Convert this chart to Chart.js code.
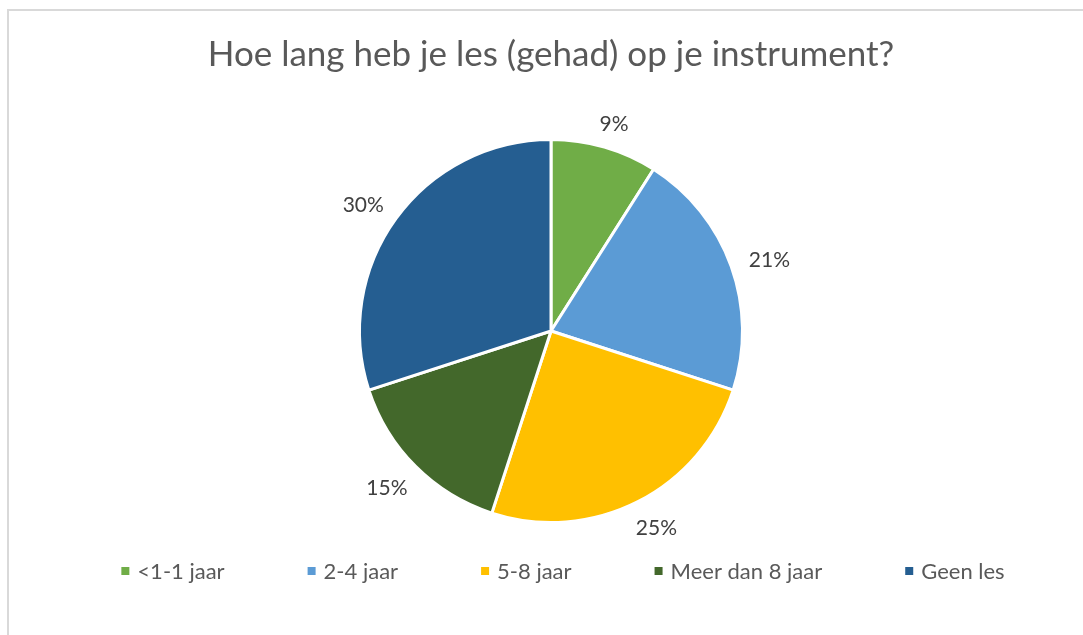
<!DOCTYPE html>
<html>
<head>
<meta charset="utf-8">
<script src="https://cdn.jsdelivr.net/npm/chart.js@4"></script>
<style>
  html, body { margin: 0; padding: 0; background: #fff; overflow: hidden; }
  #frame { position: absolute; left: 7px; top: 9px; width: 1100px; height: 700px; border: 2px solid #d9d9d9; }
  #wrap { position: absolute; left: 0; top: 0; width: 1083px; height: 635px; }
</style>
</head>
<body>
<div id="frame"></div>
<div id="wrap"><canvas id="pie" width="1083" height="635"></canvas></div>
<script>
const categories = ['<1-1 jaar', '2-4 jaar', '5-8 jaar', 'Meer dan 8 jaar', 'Geen les'];
const shares = [9, 21, 25, 15, 30];
const sliceColors = ['#70ad47', '#5b9bd5', '#ffc000', '#43682b', '#255e91'];
const chartTitle = 'Hoe lang heb je les (gehad) op je instrument?';

const FONT = 'Lato, "Open Sans", sans-serif';

// percent labels just outside each slice
const outsideLabels = {
    id: 'outsideLabels',
    afterDatasetsDraw(chart) {
        const ctx = chart.ctx;
        const meta = chart.getDatasetMeta(0);
        ctx.save();
        ctx.font = '21px ' + FONT;
        ctx.fillStyle = '#404040';
        ctx.textAlign = 'center';
        ctx.textBaseline = 'middle';
        meta.data.forEach((arc, i) => {
            const mid = (arc.startAngle + arc.endAngle) / 2;
            const dx = Math.cos(mid), dy = Math.sin(mid);
            const text = shares[i] + '%';
            const w = ctx.measureText(text).width;
            const r = arc.outerRadius + 20;
            const x = arc.x + dx * r + dx * w / 2;
            const y = arc.y + dy * r + dy * 7 + 3;
            ctx.fillText(text, x, y);
        });
        ctx.restore();
    }
};

// Excel-like legend row: small squares, equal gaps between items
const squareLegend = {
    id: 'squareLegend',
    afterDraw(chart) {
        const ctx = chart.ctx;
        const labels = chart.data.labels;
        const colors = chart.data.datasets[0].backgroundColor;
        const box = 8, textGap = 8, itemGap = 83, centerX = 563, y = 571;
        ctx.save();
        ctx.font = '22px ' + FONT;
        ctx.textBaseline = 'middle';
        const widths = labels.map(l => box + textGap + ctx.measureText(l).width);
        const total = widths.reduce((a, b) => a + b, 0) + itemGap * (labels.length - 1);
        let x = centerX - total / 2;
        labels.forEach((l, i) => {
            ctx.fillStyle = colors[i];
            ctx.fillRect(x, y - box / 2, box, box);
            ctx.fillStyle = '#595959';
            ctx.fillText(l, x + box + textGap, y + 1);
            x += widths[i] + itemGap;
        });
        ctx.restore();
    }
};

new Chart(document.getElementById('pie'), {
    type: 'pie',
    data: {
        labels: categories,
        datasets: [{
            data: shares,
            backgroundColor: sliceColors,
            borderColor: '#ffffff',
            borderWidth: 3
        }]
    },
    options: {
        responsive: false,
        animation: false,
        layout: {
            padding: { top: 10, bottom: 111, left: 20, right: 1 }
        },
        plugins: {
            legend: { display: false },
            tooltip: { enabled: false },
            title: {
                display: true,
                text: chartTitle,
                color: '#595959',
                font: { family: FONT, size: 35, weight: 'normal' },
                padding: { top: 24, bottom: 62 }
            }
        }
    },
    plugins: [outsideLabels, squareLegend]
});
</script>
</body>
</html>
